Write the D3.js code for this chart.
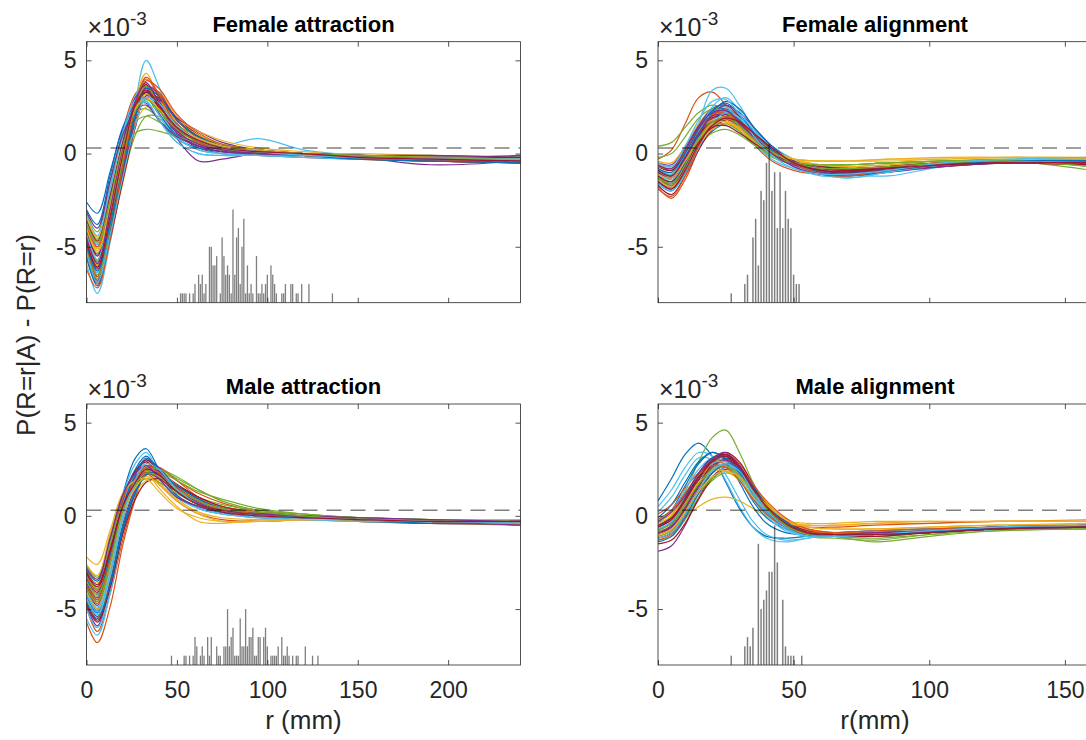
<!DOCTYPE html>
<html><head><meta charset="utf-8">
<script src="https://cdn.jsdelivr.net/npm/d3@7"></script>
<style>body{margin:0;background:#fff}svg{display:block}</style>
</head><body><svg id="c" width="1086" height="740"></svg>
<script>
// ---------- data (values in units of 1e-3) ----------
const colorOrder = ["#0072BD","#D95319","#EDB120","#7E2F8E","#77AC30","#4DBEEE","#A2142F"];
const yTicks = [-5, 0, 5];
const xTicksAttraction = [0, 50, 100, 150, 200];
const xTicksAlignment = [0, 50, 100, 150];
const refLevel = 0.3;
const histUnit = 0.5; // height of one count

const attrKnots = [0, 6, 13, 20, 27, 33, 40, 50, 62, 75, 95, 120, 150, 190, 240];
const femaleAlignKnots = [0, 5, 10, 15, 20, 25, 30, 36, 42, 50, 60, 70, 85, 105, 130, 160];
const maleAlignKnots = [0, 5, 10, 15, 20, 25, 30, 35, 40, 47, 55, 65, 80, 100, 125, 160];

const femaleAttraction = [
[-4.4,-5.9,-3.6,-0.6,2.2,3.5,2.9,1.6,0.7,0.3,0.1,-0.1,-0.2,-0.3,-0.4],
[-3.8,-5.0,-2.0,1.2,3.2,3.7,2.6,1.2,0.5,0.2,0.1,0.0,-0.1,-0.2,-0.2],
[-4.9,-6.3,-4.4,-1.6,1.4,3.3,3.3,2.0,1.0,0.4,0.1,-0.1,-0.3,-0.4,-0.5],
[-5.3,-6.8,-3.6,-0.2,2.5,3.2,2.2,0.8,-0.4,-0.3,0.0,-0.1,-0.2,-0.6,-0.4],
[-3.2,-4.2,-1.5,1.0,2.2,2.4,1.9,1.2,0.7,0.4,0.1,0.0,-0.1,-0.1,-0.3],
[-5.9,-7.5,-4.8,-1.0,2.8,5.0,3.6,1.3,0.4,0.4,0.8,0.2,-0.1,-0.3,-0.4],
[-4.6,-6.1,-2.9,0.4,2.8,3.7,2.6,1.1,0.3,0.0,-0.1,-0.2,-0.3,-0.4,-0.5],
[-3.0,-3.8,-1.2,1.4,2.6,2.7,1.8,0.8,0.3,0.1,0.0,-0.1,-0.1,-0.2,-0.1],
[-5.6,-7.0,-4.7,-1.4,1.6,3.6,3.3,1.8,0.8,0.3,0.1,-0.1,-0.2,-0.3,-0.5],
[-4.0,-5.2,-2.4,0.8,3.0,4.3,3.0,1.5,0.7,0.3,0.1,0.0,0.0,-0.1,-0.2],
[-4.7,-6.0,-3.9,-1.0,1.6,3.0,2.9,1.9,1.2,0.6,0.2,0.0,-0.2,-0.3,-0.4],
[-3.5,-4.6,-2.2,0.4,1.7,2.0,1.7,1.2,0.8,0.4,0.1,0.0,-0.1,-0.2,-0.3],
[-4.8,-6.4,-3.2,0.4,3.1,3.8,2.4,0.9,0.2,0.0,0.0,-0.1,-0.2,-0.3,-0.4],
[-5.1,-6.6,-4.2,-1.2,1.7,3.3,3.1,1.9,1.0,0.4,0.1,0.0,-0.2,-0.3,-0.5],
[-2.6,-3.2,-1.0,1.3,2.6,3.0,2.1,1.0,0.4,0.1,0.0,-0.1,-0.2,-0.2,-0.2],
[-4.3,-5.7,-3.0,0.2,2.8,4.0,3.1,1.6,0.7,0.3,0.1,0.0,-0.1,-0.3,-0.3],
[-3.9,-5.1,-2.9,-0.2,1.9,2.9,2.6,1.7,1.0,0.5,0.2,0.0,-0.2,-0.3,-0.4],
[-4.5,-5.8,-2.7,0.6,3.0,3.5,2.4,1.1,0.4,0.1,0.0,-0.1,-0.2,-0.4,-0.3],
[-5.0,-6.5,-4.3,-1.4,1.0,2.0,2.0,1.5,0.9,0.5,0.2,0.0,-0.2,-0.3,-0.4],
[-3.3,-4.4,-1.7,1.1,2.9,3.3,2.1,0.8,0.2,0.0,-0.1,-0.2,-0.2,-0.2,-0.2],
[-5.4,-6.9,-4.5,-1.5,1.4,3.1,3.0,1.8,0.9,0.4,0.1,-0.1,-0.2,-0.4,-0.5],
[-4.1,-5.4,-2.6,0.5,2.7,3.3,2.5,1.3,0.7,0.3,0.1,0.0,-0.1,-0.2,-0.3],
[-5.0,-6.6,-3.4,-0.1,2.7,3.6,2.6,1.2,0.5,0.2,0.0,-0.1,-0.3,-0.4,-0.5],
[-3.4,-4.5,-2.6,0.0,1.7,2.5,2.4,1.8,1.2,0.7,0.3,0.1,-0.1,-0.2,-0.3],
[-4.8,-6.2,-3.9,-0.9,1.9,3.6,3.2,1.8,0.9,0.4,0.1,0.0,-0.2,-0.3,-0.3],
[-4.4,-5.8,-3.3,-0.3,1.1,1.3,1.2,0.9,0.6,0.3,0.1,0.0,-0.2,-0.2,-0.3],
[-3.7,-4.9,-2.0,0.9,2.6,2.8,1.8,0.6,0.0,-0.1,-0.1,-0.2,-0.3,-0.3,-0.4],
[-4.2,-5.5,-2.9,0.2,2.7,3.6,2.8,1.5,0.7,0.3,0.1,0.0,-0.1,-0.2,-0.3],
[-5.5,-7.1,-4.3,-0.7,2.1,3.3,2.7,1.4,0.6,0.2,0.0,-0.1,-0.3,-0.4,-0.5],
[-3.9,-5.0,-2.8,0.0,2.3,3.9,3.5,2.1,1.1,0.5,0.2,0.0,-0.1,-0.3,-0.3],
[-4.6,-6.0,-3.3,0.0,2.3,3.2,2.6,1.5,0.7,0.3,0.1,-0.1,-0.2,-0.3,-0.4],
[-3.1,-4.0,-1.5,1.0,2.3,2.6,1.8,0.9,0.4,0.1,0.0,0.0,-0.1,-0.1,-0.2],
[-5.2,-6.7,-3.9,-0.4,2.6,3.6,2.7,1.3,0.6,0.2,0.1,-0.1,-0.2,-0.3,-0.4],
[-4.3,-5.7,-2.8,0.4,2.4,2.8,1.8,0.6,0.0,-0.1,-0.1,-0.1,-0.2,-0.3,-0.3],
[-3.6,-4.7,-2.3,0.5,2.6,3.3,2.5,1.3,0.7,0.3,0.1,0.0,-0.1,-0.2,-0.2],
[-4.9,-6.3,-3.8,-0.8,2.0,3.5,3.1,1.8,0.9,0.4,0.2,0.0,-0.1,-0.3,-0.3],
[-6.2,-7.2,-4.5,-0.7,2.5,4.1,3.2,1.5,0.6,0.3,0.1,0.0,-0.2,-0.3,-0.4],
[-4.0,-5.3,-2.8,0.3,2.4,3.0,2.4,1.4,0.8,0.4,0.2,0.0,-0.1,-0.2,-0.3],
[-4.5,-5.9,-3.0,0.3,2.8,3.8,2.7,1.2,0.5,0.2,0.0,-0.1,-0.2,-0.3,-0.4],
[-3.7,-4.8,-2.5,0.4,2.3,2.9,2.3,1.3,0.7,0.3,0.1,0.0,-0.1,-0.2,-0.3],
[-5.3,-6.9,-4.4,-1.3,1.5,3.0,2.7,1.5,0.7,0.3,0.1,-0.1,-0.2,-0.3,-0.3],
[-4.7,-6.1,-3.4,-0.1,2.6,3.4,2.6,1.4,0.7,0.3,0.1,0.0,-0.2,-0.3,-0.4]
];

const femaleAlignment = [
[-1.2,-1.5,-0.5,0.9,1.9,2.0,1.4,0.5,-0.1,-0.5,-0.7,-0.8,-0.7,-0.5,-0.4,-0.4],
[-0.3,0.2,1.6,3.0,3.3,2.6,1.6,0.4,-0.4,-0.9,-1.1,-1.0,-0.8,-0.6,-0.5,-0.5],
[-0.8,-1.0,0.0,1.2,2.0,2.2,1.7,0.8,0.1,-0.4,-0.6,-0.6,-0.5,-0.4,-0.4,-0.5],
[-1.5,-1.9,-0.9,0.5,1.5,1.8,1.4,0.6,0.0,-0.6,-0.9,-1.0,-0.8,-0.6,-0.5,-0.6],
[0.4,0.6,1.4,2.2,2.6,2.3,1.6,0.6,-0.1,-0.5,-0.6,-0.6,-0.5,-0.4,-0.4,-0.9],
[-1.0,-1.4,-0.3,1.6,3.4,3.5,2.6,1.2,0.2,-0.6,-1.1,-1.3,-1.0,-0.6,-0.4,-0.3],
[-1.3,-1.7,-0.7,0.8,1.8,2.1,1.7,0.8,0.1,-0.5,-0.8,-0.8,-0.7,-0.5,-0.5,-0.6],
[-0.6,-0.9,0.1,1.4,2.3,2.4,1.8,0.8,0.0,-0.6,-0.8,-0.9,-0.7,-0.5,-0.4,-0.4],
[-1.8,-2.4,-1.4,0.2,1.4,1.9,1.6,0.9,0.2,-0.5,-1.0,-1.2,-0.9,-0.6,-0.5,-0.5],
[-0.4,-0.5,0.4,1.6,2.4,2.5,1.9,0.9,0.2,-0.3,-0.4,-0.4,-0.3,-0.2,-0.2,-0.3],
[-1.1,-1.3,-0.4,0.8,1.6,1.8,1.4,0.7,0.1,-0.5,-0.8,-0.9,-0.8,-0.6,-0.5,-0.5],
[-0.9,-1.1,-0.2,1.0,1.7,1.7,1.2,0.4,-0.2,-0.6,-0.7,-0.7,-0.6,-0.4,-0.3,-0.3],
[-1.4,-1.8,-0.8,0.6,1.8,2.3,2.0,1.2,0.4,-0.3,-0.8,-1.1,-1.2,-0.7,-0.5,-0.4],
[-0.7,-0.9,0.0,1.1,1.9,2.1,1.7,0.9,0.2,-0.4,-0.7,-0.8,-0.7,-0.5,-0.4,-0.5],
[-1.6,-2.0,-1.0,0.3,1.2,1.6,1.4,0.8,0.2,-0.4,-0.8,-0.9,-0.8,-0.6,-0.5,-0.5],
[-1.0,-1.3,-0.3,1.0,2.0,2.4,2.0,1.0,0.2,-0.6,-1.0,-1.1,-0.9,-0.6,-0.5,-0.6],
[-1.2,-1.6,-0.6,0.7,1.5,1.7,1.3,0.6,0.0,-0.4,-0.6,-0.6,-0.5,-0.4,-0.4,-0.4],
[-0.5,-0.6,0.3,1.5,2.4,2.6,2.0,1.0,0.2,-0.5,-0.9,-1.0,-0.9,-0.6,-0.4,-0.4],
[-1.4,-1.7,-0.8,0.4,1.1,1.3,1.0,0.4,-0.1,-0.5,-0.6,-0.6,-0.5,-0.4,-0.4,-0.7],
[-0.8,-1.1,-0.1,1.3,2.3,2.5,1.7,0.5,-0.3,-0.8,-1.0,-1.1,-0.9,-0.6,-0.4,-0.3],
[-1.7,-2.2,-1.2,0.2,1.3,1.8,1.6,1.0,0.3,-0.4,-0.9,-1.0,-0.9,-0.7,-0.5,-0.6],
[-0.9,-1.2,-0.2,1.1,2.1,2.3,1.8,0.9,0.2,-0.5,-0.8,-0.9,-0.8,-0.5,-0.4,-0.5],
[-1.3,-1.6,-0.5,1.0,2.1,2.2,1.6,0.6,-0.1,-0.6,-0.9,-0.9,-0.7,-0.5,-0.4,-0.4],
[-0.6,-0.7,0.2,1.2,1.8,1.8,1.4,0.7,0.1,-0.3,-0.4,-0.4,-0.3,-0.3,-0.2,-0.2],
[-1.5,-1.8,-0.7,0.9,2.1,2.6,2.2,1.3,0.4,-0.4,-0.9,-1.1,-1.0,-0.7,-0.5,-0.5],
[-1.0,-1.2,-0.4,0.7,1.5,1.6,1.2,0.5,-0.1,-0.5,-0.6,-0.6,-0.5,-0.4,-0.4,-0.6],
[-1.1,-1.5,-0.5,1.0,2.5,3.0,2.3,1.0,0.1,-0.7,-1.2,-1.2,-0.9,-0.6,-0.4,-0.4],
[-0.9,-1.2,-0.2,1.0,1.7,1.9,1.5,0.8,0.1,-0.5,-0.8,-0.9,-0.8,-0.5,-0.5,-0.5],
[-1.3,-1.6,-0.5,1.0,2.2,2.8,2.4,1.3,0.4,-0.5,-1.0,-1.2,-1.0,-0.6,-0.4,-0.4],
[-0.7,-0.8,0.1,1.3,2.1,2.2,1.7,0.8,0.1,-0.5,-0.8,-0.8,-0.7,-0.5,-0.4,-0.5],
[-1.4,-1.8,-0.9,0.4,1.3,1.6,1.4,0.8,0.2,-0.3,-0.6,-0.7,-0.6,-0.5,-0.4,-0.5],
[-1.0,-1.3,-0.3,1.1,2.0,2.1,1.6,0.8,0.1,-0.6,-1.0,-1.1,-0.9,-0.6,-0.5,-0.5],
[-0.2,0.0,0.9,1.9,2.4,2.2,1.5,0.6,-0.1,-0.5,-0.6,-0.6,-0.5,-0.4,-0.4,-0.6],
[-1.6,-2.0,-1.1,0.3,1.6,2.2,1.9,1.1,0.3,-0.5,-1.1,-1.3,-1.0,-0.6,-0.4,-0.3],
[-1.2,-1.5,-0.6,0.6,1.4,1.5,1.1,0.5,0.0,-0.5,-0.8,-0.9,-0.7,-0.5,-0.5,-0.6],
[-0.8,-1.0,0.0,1.3,2.3,2.7,2.1,1.0,0.2,-0.5,-0.9,-1.0,-0.9,-0.6,-0.4,-0.4],
[-1.9,-2.3,-1.2,0.4,1.6,2.0,1.7,1.0,0.3,-0.5,-1.1,-1.2,-0.9,-0.6,-0.5,-0.5],
[-1.1,-1.3,-0.4,0.8,1.6,1.7,1.3,0.6,0.0,-0.3,-0.4,-0.4,-0.4,-0.3,-0.2,-0.3],
[-0.6,-0.8,0.2,1.4,2.2,2.3,1.7,0.7,0.0,-0.7,-1.1,-1.1,-0.9,-0.6,-0.5,-0.5],
[-1.3,-1.6,-0.6,0.8,1.7,1.9,1.5,0.7,0.1,-0.5,-0.8,-0.8,-0.7,-0.5,-0.4,-0.7],
[-0.5,-0.7,0.4,1.8,2.8,2.9,2.1,0.8,-0.1,-0.8,-1.1,-1.1,-0.9,-0.5,-0.3,-0.2],
[-1.5,-1.9,-0.9,0.5,1.5,1.9,1.7,1.0,0.3,-0.5,-0.9,-1.0,-0.8,-0.6,-0.5,-0.5]
];

const maleAttraction = [
[-3.6,-4.3,-1.9,0.9,2.5,3.2,2.4,1.3,0.6,0.2,0.0,-0.1,-0.2,-0.3,-0.3],
[-4.9,-6.2,-4.2,-1.3,1.0,2.3,2.5,1.9,1.2,0.7,0.2,-0.1,-0.3,-0.4,-0.5],
[-2.6,-3.2,-1.0,1.2,2.2,2.3,1.5,0.5,-0.3,-0.4,-0.2,-0.1,-0.2,-0.2,-0.2],
[-3.9,-4.8,-2.7,0.1,1.9,2.7,2.4,1.4,0.7,0.3,0.1,-0.1,-0.2,-0.3,-0.3],
[-3.1,-3.9,-2.2,0.2,1.6,2.4,2.5,2.1,1.4,0.8,0.3,0.1,-0.1,-0.2,-0.3],
[-5.5,-6.4,-4.2,-0.9,1.7,2.9,2.6,1.5,0.7,0.3,0.0,-0.1,-0.2,-0.3,-0.4],
[-3.4,-4.1,-1.8,0.9,2.4,2.9,2.2,1.1,0.5,0.2,0.0,-0.1,-0.2,-0.3,-0.3],
[-4.0,-5.0,-2.1,1.1,3.1,3.6,2.5,1.1,0.4,0.1,-0.1,-0.2,-0.3,-0.4,-0.4],
[-5.7,-6.8,-4.9,-1.6,0.9,2.4,2.6,1.9,1.0,0.5,0.1,-0.1,-0.2,-0.3,-0.5],
[-3.0,-3.6,-1.5,1.0,2.1,2.4,1.8,0.9,0.2,-0.1,-0.2,-0.2,-0.3,-0.3,-0.3],
[-4.4,-5.4,-3.5,-0.7,1.4,2.5,2.4,1.6,0.9,0.4,0.1,-0.1,-0.2,-0.3,-0.4],
[-3.7,-4.5,-2.5,0.2,1.8,2.4,2.2,1.6,1.0,0.6,0.3,0.0,-0.2,-0.3,-0.3],
[-3.3,-4.0,-1.6,1.1,2.8,3.4,2.3,1.0,0.4,0.1,0.0,-0.1,-0.2,-0.3,-0.3],
[-4.6,-5.6,-3.8,-0.9,1.2,2.2,2.3,1.7,1.0,0.5,0.2,0.0,-0.2,-0.3,-0.4],
[-2.9,-3.5,-1.3,1.1,2.3,2.7,2.0,1.0,0.5,0.2,0.1,0.0,-0.1,-0.2,-0.2],
[-4.1,-5.1,-2.9,0.0,1.9,2.7,2.5,1.6,0.8,0.4,0.1,-0.1,-0.2,-0.3,-0.3],
[-3.5,-4.3,-2.7,-0.3,1.2,1.9,1.9,1.4,0.9,0.5,0.2,0.0,-0.1,-0.2,-0.3],
[-4.8,-5.9,-3.6,-0.5,1.5,2.3,2.2,1.5,0.8,0.4,0.1,-0.1,-0.2,-0.3,-0.5],
[-3.2,-3.9,-2.1,0.3,1.9,2.6,2.4,1.9,1.3,0.9,0.4,0.1,-0.1,-0.2,-0.3],
[-5.0,-6.0,-3.9,-0.7,1.3,2.2,2.1,1.4,0.7,0.3,0.0,-0.1,-0.2,-0.3,-0.4],
[-3.8,-4.6,-2.2,0.7,2.4,3.0,2.4,1.3,0.6,0.2,0.0,-0.1,-0.2,-0.3,-0.3],
[-4.3,-5.2,-3.4,-0.6,1.3,2.2,2.3,1.6,0.9,0.4,0.1,-0.1,-0.2,-0.4,-0.4],
[-3.3,-4.0,-1.6,0.9,2.1,2.3,1.7,0.8,0.1,-0.2,-0.3,-0.2,-0.2,-0.3,-0.3],
[-4.5,-5.5,-3.3,-0.2,1.6,2.5,2.4,1.6,0.8,0.3,0.0,-0.1,-0.2,-0.3,-0.4],
[-3.6,-4.4,-2.3,0.4,2.1,3.0,2.6,1.5,0.7,0.3,0.1,0.0,-0.2,-0.3,-0.3],
[-2.7,-3.3,-1.5,0.6,1.6,2.0,1.8,1.2,0.6,0.3,0.1,0.0,-0.1,-0.2,-0.2],
[-4.0,-4.9,-2.4,0.6,2.2,2.6,2.0,1.0,0.4,0.1,-0.1,-0.2,-0.3,-0.3,-0.4],
[-4.7,-5.7,-3.9,-1.0,0.9,1.8,2.0,1.6,1.0,0.5,0.2,0.0,-0.2,-0.3,-0.4],
[-3.4,-4.2,-2.1,0.5,2.2,3.1,2.5,1.3,0.6,0.2,0.0,-0.1,-0.2,-0.3,-0.3],
[-3.9,-4.7,-2.6,0.3,2.0,2.7,2.3,1.4,0.6,0.2,0.0,-0.1,-0.2,-0.3,-0.3],
[-2.2,-2.6,-0.8,1.2,1.9,2.0,1.3,0.4,-0.1,-0.3,-0.3,-0.2,-0.2,-0.2,-0.2],
[-4.2,-5.1,-3.1,-0.1,1.7,2.5,2.4,1.5,0.8,0.4,0.1,-0.1,-0.2,-0.3,-0.3],
[-3.5,-4.2,-2.5,0.0,1.7,2.5,2.5,2.0,1.4,0.8,0.3,0.1,-0.1,-0.2,-0.3],
[-4.4,-5.3,-3.2,-0.2,1.7,2.6,2.3,1.4,0.6,0.2,0.0,-0.1,-0.2,-0.3,-0.4],
[-3.1,-3.8,-1.9,0.5,1.8,2.3,2.0,1.3,0.6,0.3,0.1,0.0,-0.2,-0.3,-0.3],
[-4.6,-5.5,-3.7,-0.8,1.2,2.2,2.3,1.6,0.9,0.4,0.1,-0.1,-0.2,-0.3,-0.3],
[-3.7,-4.5,-2.4,0.3,1.9,2.6,2.3,1.5,0.8,0.4,0.1,0.0,-0.2,-0.3,-0.3],
[-4.1,-5.0,-2.9,0.0,1.5,2.1,1.7,0.8,0.1,-0.3,-0.3,-0.2,-0.2,-0.3,-0.3],
[-2.8,-3.4,-1.2,1.1,2.3,2.7,2.0,1.0,0.5,0.2,0.1,0.0,-0.1,-0.2,-0.3],
[-3.9,-4.6,-2.6,0.3,1.7,2.3,2.1,1.4,0.8,0.4,0.2,0.0,-0.2,-0.3,-0.3],
[-4.2,-5.1,-3.0,0.0,1.9,2.8,2.5,1.4,0.6,0.2,0.0,-0.1,-0.2,-0.3,-0.4],
[-3.0,-3.7,-1.9,0.5,1.8,2.5,2.2,1.3,0.6,0.2,0.0,-0.1,-0.2,-0.3,-0.3]
];

const maleAlignment = [
[0.8,2.0,3.3,3.9,3.2,1.8,0.4,-0.6,-1.1,-1.2,-1.1,-1.0,-0.9,-0.8,-0.6,-0.5],
[-0.6,-0.2,0.9,2.1,2.9,3.0,2.4,1.4,0.5,-0.3,-0.8,-0.9,-0.8,-0.7,-0.6,-0.5],
[-0.8,-0.6,-0.1,0.5,0.9,1.0,0.8,0.4,0.0,-0.3,-0.4,-0.4,-0.3,-0.3,-0.3,-0.2],
[-1.9,-1.6,-0.5,1.0,2.1,2.6,2.3,1.4,0.4,-0.5,-1.0,-1.1,-1.0,-0.8,-0.6,-0.5],
[-0.5,0.0,1.3,2.9,4.2,4.6,3.4,1.8,0.5,-0.6,-1.1,-1.2,-1.3,-1.0,-0.7,-0.6],
[0.2,1.0,2.2,3.1,3.0,1.9,0.5,-0.6,-1.2,-1.4,-1.2,-1.0,-0.8,-0.7,-0.8,-0.4],
[-1.2,-0.9,0.2,1.5,2.6,3.1,2.6,1.5,0.4,-0.5,-0.9,-1.0,-1.0,-0.9,-0.7,-0.6],
[-0.4,0.3,1.6,2.8,3.4,3.0,1.8,0.5,-0.4,-0.9,-1.0,-0.9,-0.8,-0.7,-0.6,-0.5],
[-1.0,-0.7,0.4,1.7,2.8,3.3,2.8,1.7,0.7,-0.2,-0.8,-0.9,-0.9,-0.8,-0.6,-0.5],
[-0.3,0.1,1.0,2.0,2.6,2.7,2.2,1.3,0.5,-0.3,-0.5,-0.5,-0.4,-0.4,-0.3,-0.3],
[-0.9,-0.5,0.7,2.0,3.0,3.2,2.5,1.3,0.3,-0.6,-1.0,-1.0,-0.9,-0.8,-0.6,-0.6],
[-1.3,-1.1,-0.2,1.0,1.9,2.3,2.0,1.3,0.5,-0.3,-0.8,-1.0,-1.1,-0.9,-0.7,-0.6],
[0.5,1.4,2.6,3.4,3.2,2.2,0.9,-0.3,-1.0,-1.3,-1.2,-1.0,-0.8,-0.7,-0.6,-0.4],
[-0.7,-0.4,0.6,1.9,2.9,3.4,2.9,1.7,0.6,-0.4,-0.9,-1.0,-1.0,-0.9,-0.7,-0.6],
[-0.1,0.6,1.8,2.9,3.4,3.0,2.0,0.8,-0.1,-0.7,-1.0,-1.0,-0.9,-0.8,-0.6,-0.5],
[-0.9,-0.6,0.3,1.4,2.3,2.7,2.4,1.6,0.7,-0.2,-0.7,-0.9,-0.9,-0.8,-0.6,-0.5],
[-1.1,-0.8,0.2,1.4,2.4,2.8,2.5,1.6,0.7,-0.2,-0.8,-0.9,-0.9,-0.8,-0.6,-0.6],
[-0.6,-0.2,0.9,2.2,3.1,3.3,2.6,1.4,0.3,-0.6,-1.0,-1.1,-1.0,-0.9,-0.7,-0.6],
[-0.2,0.3,1.2,2.2,2.9,3.0,2.3,1.2,0.3,-0.5,-0.9,-1.0,-1.1,-0.9,-0.7,-0.7],
[-1.0,-0.6,0.5,1.8,2.6,2.7,2.0,1.0,0.1,-0.7,-1.1,-1.1,-0.9,-0.8,-0.6,-0.5],
[-1.5,-1.3,-0.4,0.9,2.0,2.5,2.3,1.5,0.6,-0.3,-0.9,-1.1,-1.1,-0.9,-0.7,-0.6],
[-0.8,-0.3,0.8,2.1,3.0,3.2,2.6,1.5,0.5,-0.4,-0.9,-1.0,-1.0,-0.8,-0.6,-0.5],
[0.1,0.6,1.5,2.3,2.8,2.8,2.2,1.2,0.4,-0.4,-0.6,-0.6,-0.5,-0.4,-0.3,-0.3],
[-0.5,-0.2,0.7,1.8,2.6,3.0,2.6,1.6,0.7,-0.2,-0.6,-0.7,-0.7,-0.6,-0.5,-0.4],
[-1.2,-0.9,0.1,1.3,2.3,2.7,2.3,1.4,0.5,-0.4,-0.9,-1.0,-1.0,-0.8,-0.7,-0.6],
[-0.7,-0.4,0.5,1.6,2.4,2.6,2.1,1.2,0.4,-0.4,-0.8,-0.9,-1.0,-0.9,-0.7,-0.6],
[-0.3,0.3,1.4,2.5,3.1,2.9,2.0,0.9,0.0,-0.8,-1.1,-1.1,-0.9,-0.8,-0.6,-0.5],
[-1.0,-0.6,0.4,1.7,2.7,3.0,2.6,1.6,0.6,-0.3,-0.8,-1.0,-1.0,-0.9,-0.7,-0.6],
[-0.6,-0.1,1.0,2.3,3.1,3.1,2.3,1.1,0.2,-0.6,-1.0,-1.0,-0.9,-0.8,-0.6,-0.5],
[-1.3,-1.0,0.0,1.3,2.3,2.8,2.6,1.7,0.8,-0.1,-0.7,-0.9,-0.9,-0.8,-0.7,-0.6],
[-0.4,0.0,0.9,1.8,2.4,2.4,1.9,1.0,0.3,-0.4,-0.5,-0.5,-0.4,-0.3,-0.3,-0.3],
[-0.9,-0.6,0.4,1.6,2.6,3.0,2.5,1.4,0.4,-0.5,-0.9,-1.0,-1.0,-0.8,-0.7,-0.6],
[-1.1,-0.8,0.1,1.2,2.0,2.4,2.1,1.3,0.5,-0.4,-0.9,-1.1,-1.2,-1.0,-0.8,-0.7],
[-0.7,-0.3,0.8,2.0,2.8,2.9,2.2,1.1,0.2,-0.6,-1.0,-1.1,-1.0,-0.8,-0.6,-0.5],
[-0.5,-0.1,0.9,2.1,3.0,3.3,2.7,1.5,0.4,-0.5,-0.9,-1.0,-1.0,-0.9,-0.7,-0.6],
[-1.4,-1.1,-0.1,1.2,2.3,2.8,2.5,1.6,0.6,-0.3,-0.9,-1.0,-1.0,-0.9,-0.7,-0.6],
[-0.2,0.3,1.2,2.2,2.7,2.6,1.9,0.9,0.1,-0.6,-0.9,-0.9,-0.8,-0.7,-0.6,-0.5],
[-1.0,-0.7,0.2,1.3,2.1,2.4,2.1,1.3,0.6,-0.2,-0.6,-0.7,-0.7,-0.6,-0.5,-0.5],
[-0.3,0.2,1.1,2.3,3.1,3.4,2.7,1.4,0.3,-0.6,-1.0,-1.0,-0.9,-0.8,-0.6,-0.5],
[-0.8,-0.4,0.6,1.7,2.5,2.7,2.2,1.3,0.4,-0.5,-1.0,-1.1,-1.4,-1.1,-0.8,-0.7],
[-1.2,-0.9,0.1,1.4,2.4,2.8,2.4,1.3,0.3,-0.6,-1.1,-1.1,-1.0,-0.8,-0.6,-0.5],
[-0.6,-0.2,0.8,2.0,2.9,3.2,2.6,1.5,0.5,-0.4,-0.9,-1.0,-1.0,-0.9,-0.7,-0.6]
];

// histograms of r (mm): bin centres and counts
const femaleAttrBins = [52,53,54,55,57,59,60,62,63,64,65,66,68,69,70,71,72,74,75,76,77,78,79,80,81,82,83,84,85,86,87,88,89,90,91,92,94,95,96,97,98,99,100,102,103,104,105,108,109,110,113,114,116,117,119,123,136];
const femaleAttrCounts = [1,1,1,1,1,1,2,3,2,3,1,2,6,6,4,4,5,1,7,5,3,4,3,1,10,3,7,8,2,6,9,1,4,1,2,1,5,1,1,2,1,2,3,4,3,2,1,1,1,2,2,2,1,1,2,2,1];
const maleAttrBins = [47,54,55,57,59,60,61,63,64,65,67,68,69,72,73,74,76,77,78,79,80,81,82,83,84,85,86,87,88,89,90,91,92,93,94,95,96,98,99,100,102,103,104,105,106,108,109,110,111,112,114,116,117,121,125,128];
const maleAttrCounts = [1,1,1,1,1,3,2,1,2,1,3,1,3,2,1,1,2,2,6,2,3,4,1,1,1,5,2,2,6,2,3,3,4,1,1,3,3,3,4,2,1,1,1,1,2,3,1,1,2,1,1,1,1,2,1,1];
const femaleAlignBins = [27,32,33,35,36,37,38,39,40,41,42,43,44,45,46,47,48,49,50,51,52];
const femaleAlignCounts = [1,2,3,7,9,4,12,11,15,17,12,14,8,14,8,12,9,8,3,2,2];
const maleAlignBins = [27,32,33,34,35,37,38,39,40,41,42,43,44,46,47,48,49,50,53];
const maleAlignCounts = [1,2,3,2,4,13,6,7,8,10,10,15,11,7,2,1,1,1,1];

const titles = ["Female attraction","Female alignment","Male attraction","Male alignment"];
const xLabels = [null, null, "r (mm)", "r(mm)"];
const yLabel = "P(R=r|A) - P(R=r)";

// ---------- layout ----------
const FONT = "Helvetica, 'Liberation Sans', Arial, sans-serif";
const cols = [{l:86.5, r:520.5, max:240, ticks:xTicksAttraction},
              {l:658, r:1092, max:160, ticks:xTicksAlignment}];
const rows = [{t:41.7, b:302.7}, {t:404, b:665}];

const panels = [
  {col:0,row:0,knots:attrKnots,curves:femaleAttraction,bins:femaleAttrBins,counts:femaleAttrCounts},
  {col:1,row:0,knots:femaleAlignKnots,curves:femaleAlignment,bins:femaleAlignBins,counts:femaleAlignCounts},
  {col:0,row:1,knots:attrKnots,curves:maleAttraction,bins:maleAttrBins,counts:maleAttrCounts},
  {col:1,row:1,knots:maleAlignKnots,curves:maleAlignment,bins:maleAlignBins,counts:maleAlignCounts}
];

const svg = d3.select("#c");
const defs = svg.append("defs");
const axisColor = "#262626";

panels.forEach((p, pi) => {
  const c = cols[p.col], rw = rows[p.row];
  const x = d3.scaleLinear().domain([0, c.max]).range([c.l, c.r]);
  const y = d3.scaleLinear().domain([-8, 6]).range([rw.b, rw.t]);
  const clipId = "clip" + pi;
  defs.append("clipPath").attr("id", clipId).append("rect")
    .attr("x", c.l).attr("y", rw.t).attr("width", c.r - c.l).attr("height", rw.b - rw.t);

  const g = svg.append("g");
  const plot = g.append("g").attr("clip-path", `url(#${clipId})`);

  const line = d3.line()
    .x((d, i) => x(p.knots[i]))
    .y(d => y(d))
    .curve(d3.curveCatmullRom.alpha(0.5));

  plot.selectAll("path.curve").data(p.curves).join("path")
    .attr("class", "curve")
    .attr("d", d => line(d))
    .attr("fill", "none")
    .attr("stroke", (d, i) => colorOrder[i % colorOrder.length])
    .attr("stroke-width", 1.2);

  // histogram
  const bw = (x(1) - x(0)) * (p.col === 0 ? 0.72 : 0.55);
  plot.selectAll("rect.bar").data(p.bins.map((b, i) => [b, p.counts[i]])).join("rect")
    .attr("class", "bar")
    .attr("x", d => x(d[0]) - bw / 2)
    .attr("width", bw)
    .attr("y", d => y(-8 + d[1] * histUnit))
    .attr("height", d => y(-8) - y(-8 + d[1] * histUnit))
    .attr("fill", "#000").attr("fill-opacity", 0.5);

  // reference dashed line
  plot.append("line")
    .attr("x1", c.l).attr("x2", c.r)
    .attr("y1", y(refLevel)).attr("y2", y(refLevel))
    .attr("stroke", "#000").attr("stroke-opacity", 0.5)
    .attr("stroke-width", 1.5).attr("stroke-dasharray", "15,9");

  // axes
  const styleAxis = sel => {
    sel.select(".domain").remove();
    sel.selectAll(".tick line").attr("stroke", axisColor).attr("stroke-width", 0.8);
    sel.selectAll(".tick text").attr("fill", axisColor)
      .style("font-family", FONT).style("font-size", "23px");
  };
  const showX = p.row === 1;
  g.append("g").attr("transform", `translate(0,${rw.b})`)
    .call(d3.axisBottom(x).tickValues(c.ticks).tickSizeInner(-5).tickSizeOuter(0).tickPadding(17)
      .tickFormat(showX ? d3.format("d") : () => ""))
    .call(styleAxis);
  g.append("g").attr("transform", `translate(0,${rw.t})`)
    .call(d3.axisTop(x).tickValues(c.ticks).tickSizeInner(-5).tickSizeOuter(0).tickFormat(() => ""))
    .call(styleAxis);
  g.append("g").attr("transform", `translate(${c.l},0)`)
    .call(d3.axisLeft(y).tickValues(yTicks).tickSizeInner(-5).tickSizeOuter(0).tickPadding(10)
      .tickFormat(d => d < 0 ? "-" + Math.abs(d) : String(d)))
    .call(styleAxis);
  g.append("g").attr("transform", `translate(${c.r},0)`)
    .call(d3.axisRight(y).tickValues(yTicks).tickSizeInner(-5).tickSizeOuter(0).tickFormat(() => ""))
    .call(styleAxis);

  // box
  g.append("rect").attr("x", c.l).attr("y", rw.t).attr("width", c.r - c.l).attr("height", rw.b - rw.t)
    .attr("fill", "none").attr("stroke", axisColor).attr("stroke-width", 0.8);

  // exponent label
  const ex = g.append("text").attr("x", c.l + 1).attr("y", rw.t - 6)
    .attr("fill", axisColor).style("font-family", FONT).style("font-size", "25px");
  ex.append("tspan").text("\u00d710");
  ex.append("tspan").attr("dy", -11).style("font-size", "19px").text("-3");

  // title
  g.append("text").attr("x", (c.l + c.r) / 2).attr("y", rw.t - 10)
    .attr("text-anchor", "middle").attr("fill", "#000")
    .style("font-family", FONT).style("font-size", "22px").style("font-weight", "bold")
    .text(titles[pi]);

  if (xLabels[pi]) {
    g.append("text").attr("x", (c.l + c.r) / 2).attr("y", 729)
      .attr("text-anchor", "middle").attr("fill", axisColor)
      .style("font-family", FONT).style("font-size", "26px").text(xLabels[pi]);
  }
});

svg.append("text")
  .attr("transform", "translate(35,335) rotate(-90)")
  .attr("text-anchor", "middle").attr("fill", axisColor)
  .style("font-family", FONT).style("font-size", "26px").text(yLabel);
</script>
</body></html>
